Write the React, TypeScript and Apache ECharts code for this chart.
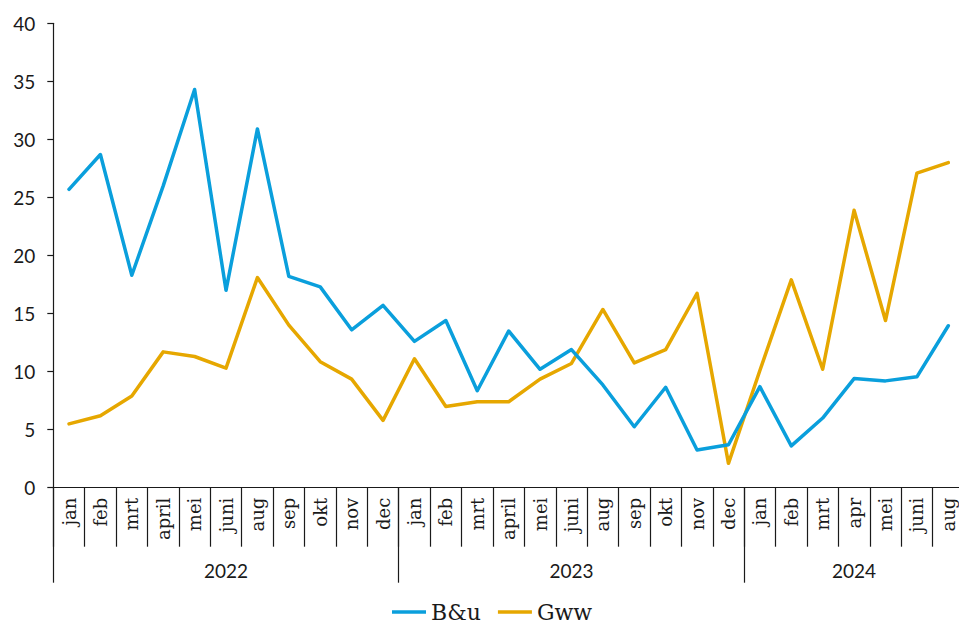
import React, { useEffect, useRef } from "react";
import * as echarts from "echarts";

const months: string[] = [
  "jan", "feb", "mrt", "april", "mei", "juni", "aug", "sep", "okt", "nov", "dec",
  "jan", "feb", "mrt", "april", "mei", "juni", "aug", "sep", "okt", "nov", "dec",
  "jan", "feb", "mrt", "apr", "mei", "juni", "aug",
];

const yearLabels: string[] = [
  "", "", "", "", "", "2022", "", "", "", "", "",
  "", "", "", "", "", "2023", "", "", "", "", "",
  "", "", "", "2024", "", "", "",
];

const yearStarts: number[] = [0, 11, 22];

const bu: number[] = [
  25.7, 28.7, 18.3, 26.0, 34.3, 17.0, 30.9, 18.2, 17.3, 13.6, 15.7,
  12.6, 14.4, 8.35, 13.5, 10.2, 11.9, 8.85, 5.25, 8.65, 3.25, 3.7,
  8.7, 3.6, 6.0, 9.4, 9.2, 9.55, 13.95,
];

const gww: number[] = [
  5.5, 6.2, 7.9, 11.7, 11.3, 10.3, 18.1, 14.0, 10.85, 9.35, 5.8,
  11.1, 7.0, 7.4, 7.4, 9.35, 10.7, 15.35, 10.75, 11.9, 16.75, 2.1,
  10.1, 17.9, 10.2, 23.9, 14.4, 27.1, 28.0,
];

const yTicks = { min: 0, max: 40, interval: 5 };

const BLUE = "#0a9fdc";
const GOLD = "#e6a700";
const INK = "#1a1a1a";
const SERIF = "DejaVu Serif";
const SANS = "Lato";

export default function App() {
  const ref = useRef<HTMLDivElement>(null);

  useEffect(() => {
    if (!ref.current) return;
    const chart = echarts.init(ref.current, undefined, { renderer: "svg" });
    chart.setOption({
      animation: false,
      backgroundColor: "#ffffff",
      grid: { left: 53.3, right: 0, top: 23.3, bottom: 135.3, containLabel: false },
      legend: {
        data: ["B&u", "Gww"],
        left: 392,
        top: 601,
        padding: 0,
        icon: "rect",
        itemWidth: 34,
        itemHeight: 3.5,
        itemGap: 17,
        textStyle: { fontFamily: SERIF, fontSize: 22, color: INK, lineHeight: 22 },
      },
      xAxis: [
        {
          type: "category",
          data: months,
          position: "bottom",
          boundaryGap: true,
          axisLine: { show: true, lineStyle: { color: INK, width: 1.2 } },
          axisTick: { show: true, interval: 0, length: 59, lineStyle: { color: INK, width: 1.2 } },
          axisLabel: {
            interval: 0,
            rotate: 90,
            margin: 10,
            fontFamily: SERIF,
            fontSize: 18,
            color: INK,
          },
          splitLine: { show: false },
        },
        {
          type: "category",
          data: yearLabels,
          position: "bottom",
          boundaryGap: true,
          axisLine: { show: false },
          axisTick: {
            show: true,
            length: 95,
            interval: (index: number) => yearStarts.indexOf(index) >= 0,
            lineStyle: { color: INK, width: 1.2 },
          },
          axisLabel: {
            interval: 0,
            margin: 73,
            fontFamily: SANS,
            fontSize: 19,
            color: INK,
          },
          splitLine: { show: false },
        },
      ],
      yAxis: {
        type: "value",
        min: yTicks.min,
        max: yTicks.max,
        interval: yTicks.interval,
        axisLine: { show: true, lineStyle: { color: INK, width: 1.2 } },
        axisTick: { show: true, length: 6, lineStyle: { color: INK, width: 1.2 } },
        axisLabel: { margin: 18, fontFamily: SANS, fontSize: 19, color: INK },
        splitLine: { show: false },
      },
      series: [
        {
          name: "B&u",
          type: "line",
          data: bu,
          symbol: "none",
          color: BLUE,
          lineStyle: { color: BLUE, width: 3.5, cap: "round", join: "round" },
          z: 3,
        },
        {
          name: "Gww",
          type: "line",
          data: gww,
          symbol: "none",
          color: GOLD,
          lineStyle: { color: GOLD, width: 3.5, cap: "round", join: "round" },
          z: 2,
        },
        {
          name: "_years",
          type: "line",
          xAxisIndex: 1,
          data: yearLabels.map(() => null),
          symbol: "none",
          silent: true,
          lineStyle: { opacity: 0 },
        },
      ],
    });
    return () => chart.dispose();
  }, []);

  return (
    <div
      style={{ position: "absolute", left: 0, top: 0, width: 959, height: 623, overflow: "hidden" }}
    >
      <div ref={ref} style={{ width: 964, height: 623 }} />
    </div>
  );
}
